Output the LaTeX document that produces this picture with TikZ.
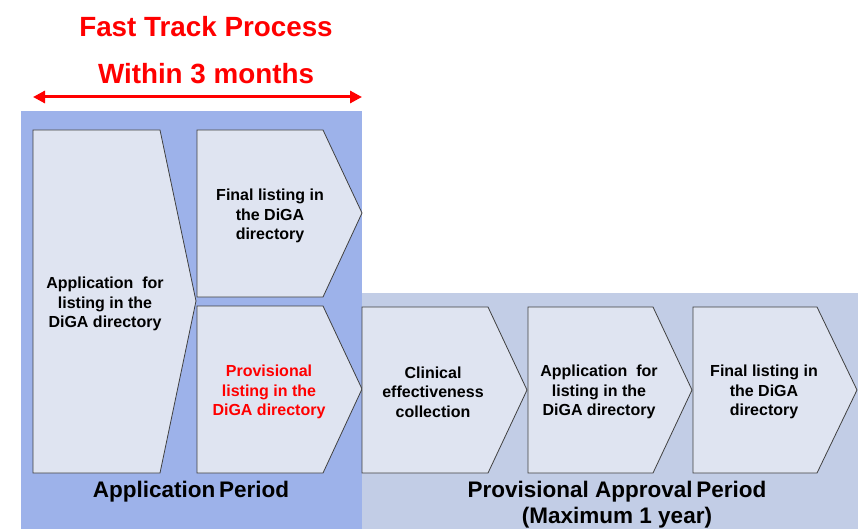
\documentclass[tikz,border=0pt]{standalone}
\usepackage{fontspec}
\setmainfont{Liberation Sans}
\usetikzlibrary{arrows.meta}
\definecolor{bgblue}{HTML}{9DB2EA}
\definecolor{bggrey}{HTML}{C2CDE6}
\definecolor{boxfill}{HTML}{DFE4F1}
\definecolor{boxline}{HTML}{404040}
\definecolor{hred}{HTML}{FF0000}
\begin{document}
\begin{tikzpicture}[x=1pt,y=-1pt,
  chev/.style={draw=boxline, fill=boxfill, line width=0.8pt, line join=miter},
  btxt/.style={font=\bfseries\fontsize{16}{19.3}\selectfont, align=center, text=black, inner sep=0pt},
  rtxt/.style={btxt, text=hred},
  ptxt/.style={font=\bfseries\fontsize{22.5}{26}\selectfont, align=center, text=black, inner sep=0pt},
  ttxt/.style={font=\bfseries\fontsize{27.8}{30}\selectfont, text=hred, inner sep=0pt},
  span/.style={draw=hred, line width=3pt, {Triangle[length=12pt,width=12pt]}-{Triangle[length=12pt,width=12pt]}}]
\useasboundingbox (0,0) rectangle (858,529);
% backgrounds
\fill[bgblue] (21,111) rectangle (362,529);
\fill[bggrey] (362,293) rectangle (858,529);
% chevrons
\path[chev] (33,130) -- (160,130) -- (196,301) -- (160,473) -- (33,473) -- cycle;
\path[chev] (197,130) -- (323,130) -- (362,213) -- (323,297) -- (197,297) -- cycle;
\path[chev] (197,306) -- (323,306) -- (362,389) -- (323,473) -- (197,473) -- cycle;
\path[chev] (362,307) -- (488,307) -- (527,390) -- (488,473) -- (362,473) -- cycle;
\path[chev] (528,307) -- (653,307) -- (692,390) -- (653,473) -- (528,473) -- cycle;
\path[chev] (693,307) -- (817,307) -- (857,390) -- (817,473) -- (693,473) -- cycle;
% box texts
\node[btxt] (app1) at (105,304) {Application\ \ for\\listing in the\\DiGA directory};
\node[btxt] (fin1) at (270,216) {Final listing in\\the DiGA\\directory};
\node[rtxt] (prov) at (269,392) {Provisional\\listing in the\\DiGA directory};
\node[btxt] (clin) at (433,392) {Clinical\\effectiveness\\collection};
\node[btxt] (app2) at (599,392) {Application\ \ for\\listing in the\\DiGA directory};
\node[btxt] (fin2) at (764,392) {Final listing in\\the DiGA\\directory};
% period labels
\node[ptxt] (aper) at (191,492) {Application\,Period};
\node[ptxt] (pper) at (617,492) {Provisional Approval\,Period};
\node[ptxt] (pmax) at (617,518) {(Maximum 1 year)};
% title
\node[ttxt] (t1) at (206,27) {Fast Track Process};
\node[ttxt] (t2) at (206,74) {Within 3 months};
\coordinate (aL) at (33,97);
\coordinate (aR) at (362,97);
\draw[span] (aL) -- (aR);
\end{tikzpicture}
\end{document}
